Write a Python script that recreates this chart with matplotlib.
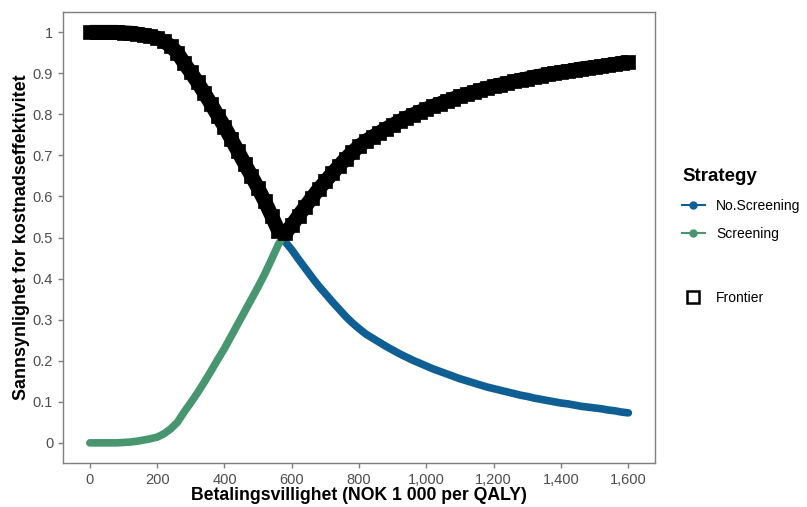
import matplotlib
matplotlib.use("Agg")
import matplotlib.pyplot as plt
from matplotlib.lines import Line2D
from matplotlib.ticker import FuncFormatter
import numpy as np

plt.rcParams['font.family'] = ['Liberation Sans', 'DejaVu Sans']

# Willingness to pay (NOK 1 000 per QALY)
wtp = list(range(0, 1601, 20))

# Probability that Screening is cost-effective
p_screening = [
    0.000, 0.000, 0.000, 0.000, 0.000, 0.001, 0.002, 0.004, 0.007, 0.010,
    0.014, 0.022, 0.034, 0.050, 0.075, 0.098, 0.122, 0.148, 0.175, 0.203,
    0.230, 0.260, 0.290, 0.320, 0.350, 0.380, 0.412, 0.447, 0.483, 0.510,
    0.530, 0.553, 0.575, 0.597, 0.618, 0.637, 0.656, 0.674, 0.692, 0.708,
    0.722, 0.735, 0.745, 0.755, 0.765, 0.774, 0.783, 0.791, 0.799, 0.806,
    0.813, 0.820, 0.826, 0.832, 0.838, 0.844, 0.849, 0.854, 0.859, 0.864,
    0.868, 0.872, 0.876, 0.880, 0.884, 0.887, 0.891, 0.894, 0.897, 0.900,
    0.903, 0.905, 0.908, 0.911, 0.913, 0.915, 0.917, 0.920, 0.922, 0.925,
    0.927,
]

strategies = ['No.Screening', 'Screening']
colors = ['#0f5e94', '#479670']

x = np.array(wtp)
ps = np.array(p_screening)
pn = 1 - ps
probs = [pn, ps]
frontier = np.maximum(pn, ps)

fig = plt.figure(figsize=(8.07, 5.07), dpi=100)
ax = fig.add_axes([0.078, 0.086, 0.734, 0.891])

for p, c in zip(probs, colors):
    ax.plot(x, p, color=c, lw=5.5, solid_capstyle='round', solid_joinstyle='round', zorder=2)

# frontier: dense hollow squares in the original, drawn here as a solid band
ax.plot(x, frontier, color='black', lw=10.5, solid_capstyle='butt', solid_joinstyle='round', zorder=3)
ax.plot(x, frontier, 's', ms=10, mfc='black', mec='black', mew=0.5, zorder=3)

ax.set_xlim(-80, 1680)
ax.set_ylim(-0.05, 1.05)
ax.set_xticks(range(0, 1601, 200))
ax.set_yticks(np.arange(0, 1.01, 0.1))
ax.xaxis.set_major_formatter(FuncFormatter(lambda v, _: f'{int(v):,}'))
ax.yaxis.set_major_formatter(FuncFormatter(lambda v, _: f'{v:g}' if abs(v) > 1e-9 else '0'))

for s in ax.spines.values():
    s.set_color('#7f7f7f')
    s.set_linewidth(1)
ax.tick_params(colors='#7f7f7f', labelcolor='#4d4d4d', labelsize=10.5, length=3.5, width=1)

ax.set_xlabel('Betalingsvillighet (NOK 1 000 per QALY)', fontsize=12.7, fontweight='bold', labelpad=0)
ax.set_ylabel('Sannsynlighet for kostnadseffektivitet', fontsize=12.9, fontweight='bold', labelpad=2)

handles = [Line2D([], [], color=c, lw=1.5, marker='o', ms=5) for c in colors]
leg1 = fig.legend(handles, strategies, title='Strategy', loc='upper left',
                  bbox_to_anchor=(0.83, 0.693), frameon=False, fontsize=10,
                  handlelength=1.6, handletextpad=0.85, labelspacing=1.0,
                  title_fontproperties={'weight': 'bold', 'size': 13.5})
leg1._legend_box.align = 'left'
fr = Line2D([], [], ls='none', marker='s', ms=9, mfc='none', mec='black', mew=1.8)
fig.legend([fr], ['Frontier'], loc='upper left', bbox_to_anchor=(0.83, 0.45),
           frameon=False, fontsize=10, handlelength=1.6, handletextpad=0.85)

fig.savefig('out.png', dpi=100)
